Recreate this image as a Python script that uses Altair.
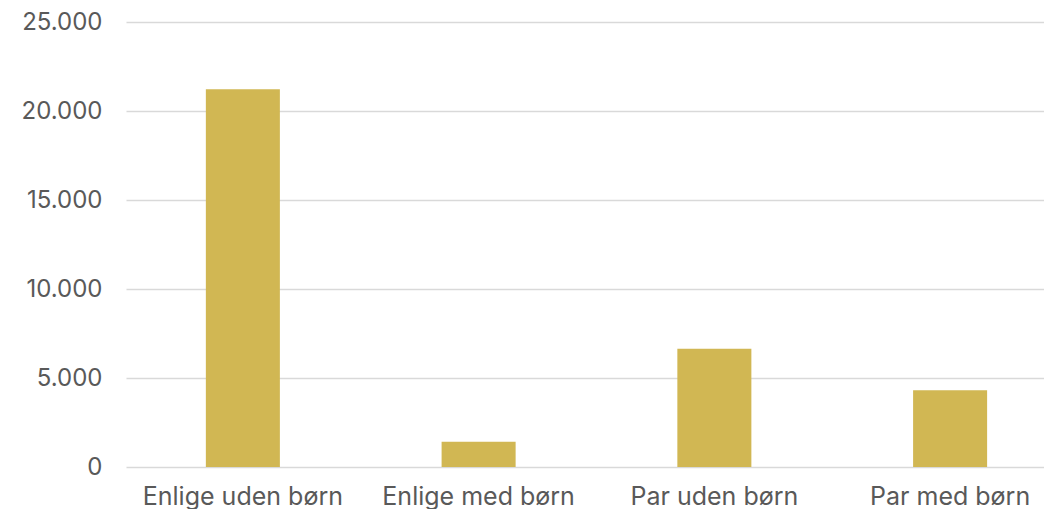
import altair as alt
import pandas as pd

categories = ["Enlige uden børn", "Enlige med børn", "Par uden børn", "Par med børn"]
values = [21220, 1420, 6650, 4310]

df = pd.DataFrame({"kategori": categories, "antal": values})

chart = (
    alt.Chart(df)
    .mark_bar(color="#D1B753")
    .encode(
        x=alt.X(
            "kategori:N",
            sort=categories,
            title=None,
            scale=alt.Scale(paddingInner=0.686, paddingOuter=0.29, align=0.584),
            axis=alt.Axis(
                labelAngle=0,
                labelFontSize=25,
                labelColor="#595959",
                labelFont="Inter",
                labelPadding=17,
                labelLimit=400,
                ticks=False,
                domain=False,
                grid=False,
            ),
        ),
        y=alt.Y(
            "antal:Q",
            title=None,
            scale=alt.Scale(domain=[0, 25000], nice=False),
            axis=alt.Axis(
                values=[0, 5000, 10000, 15000, 20000, 25000],
                labelExpr="replace(format(datum.value, ',d'), ',', '.')",
                labelFontSize=24,
                labelColor="#595959",
                labelFont="Inter",
                labelPadding=24,
                ticks=False,
                domain=False,
                gridColor="#D9D9D9",
                gridWidth=1.5,
            ),
        ),
    )
    .properties(width=918, height=445, padding={"left": 13, "top": 2, "right": 0, "bottom": 0})
    .configure(background="white")
    .configure_view(stroke=None)
)

chart.save("out.html", embed_options={"renderer": "svg", "actions": False})
